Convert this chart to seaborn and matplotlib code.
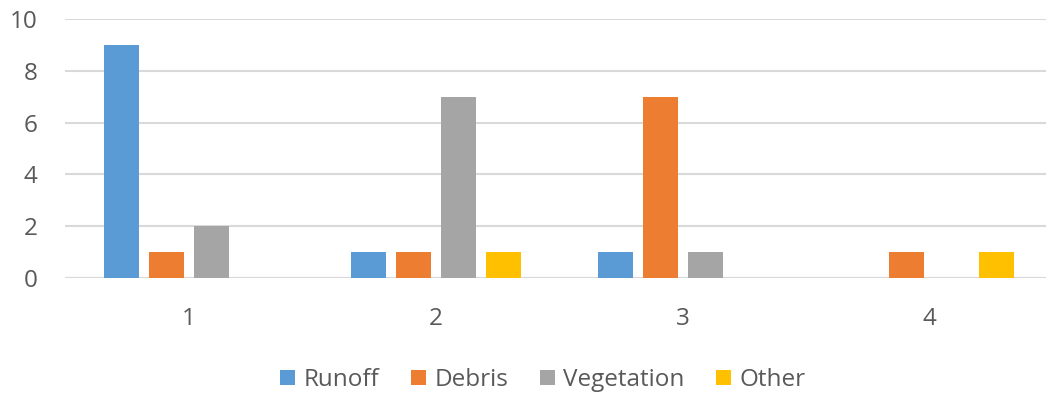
import matplotlib
matplotlib.use("Agg")
import matplotlib.pyplot as plt
import seaborn as sns
import pandas as pd
from matplotlib.patches import Patch

# Counts per site (category) for each source type
sites = ["1", "2", "3", "4"]
runoff = [9, 1, 1, 0]
debris = [1, 1, 7, 1]
vegetation = [2, 7, 1, 0]
other = [0, 1, 0, 1]

series_names = ["Runoff", "Debris", "Vegetation", "Other"]
colors = ["#5B9BD5", "#ED7D31", "#A5A5A5", "#FFC000"]

rows = []
for name, vals in zip(series_names, [runoff, debris, vegetation, other]):
    for s, v in zip(sites, vals):
        rows.append({"site": s, "source": name, "count": v})
df = pd.DataFrame(rows)

sns.set_theme(style="white")
plt.rcParams["font.family"] = ["Open Sans", "DejaVu Sans"]
text_color = "#595959"
grid_color = "#D9D9D9"

fig = plt.figure(figsize=(10.46, 3.98), dpi=100)
ax = fig.add_axes([0.0626, 0.3015, 0.944, 0.6508])

sns.barplot(
    data=df, x="site", y="count", hue="source",
    order=sites, hue_order=series_names,
    palette=colors, width=0.729, gap=0.222,
    linewidth=0, saturation=1, ax=ax, legend=False,
)

ax.set_ylim(0, 10)
ax.set_xlim(-0.5, len(sites) - 0.5)
ax.set_yticks([0, 2, 4, 6, 8, 10])
ax.yaxis.grid(True, color=grid_color, linewidth=1.5)
ax.set_axisbelow(True)
for sp in ax.spines.values():
    sp.set_visible(False)
ax.axhline(0, color=grid_color, linewidth=1.5, zorder=0)

ax.set_xlabel("")
ax.set_ylabel("")
ax.tick_params(axis="both", length=0, labelsize=17.5, labelcolor=text_color)
ax.tick_params(axis="y", pad=20)
ax.tick_params(axis="x", pad=21)

handles = [Patch(facecolor=c, edgecolor="none") for c in colors]
fig.legend(
    handles, series_names, loc="center", bbox_to_anchor=(0.519, 0.045),
    ncol=4, frameon=False, fontsize=17.5, labelcolor=text_color,
    handlelength=0.62, handleheight=0.62, handletextpad=0.35, columnspacing=1.3,
)

fig.savefig("out.png", dpi=100)
